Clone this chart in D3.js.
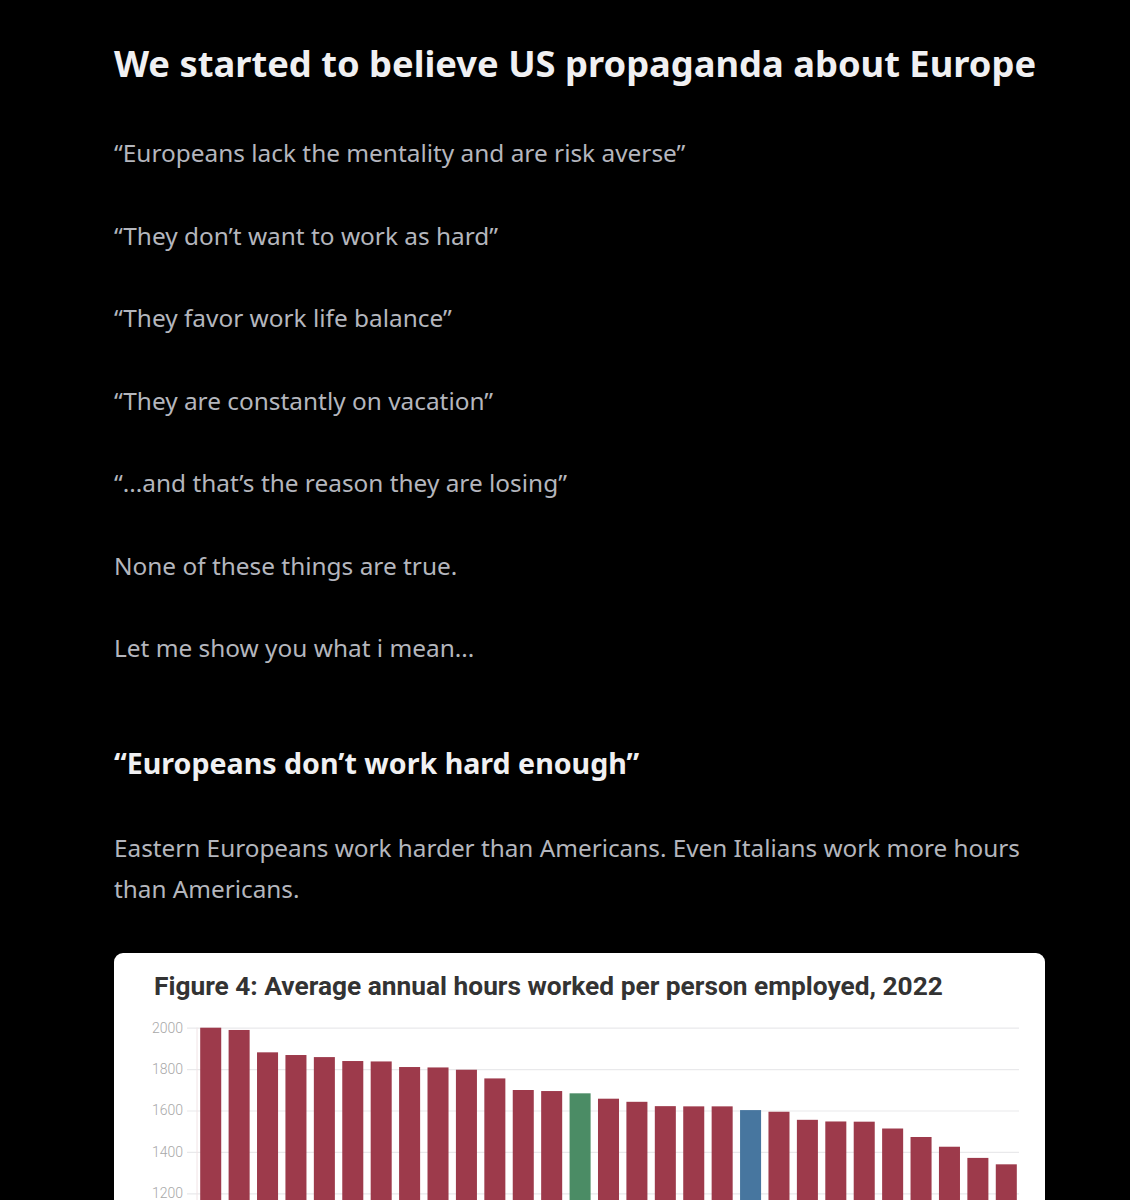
<!DOCTYPE html>
<html>
<head>
<meta charset="utf-8">
<title>Average annual hours worked</title>
<script src="https://d3js.org/d3.v7.min.js"></script>
<style>
  body { margin: 0; background: #000; }
  svg { display: block; }
  .copy { font-family: "Noto Sans", "Open Sans", sans-serif; }
  .fig-title { font-family: Roboto, sans-serif; font-weight: 700; }
  .y-axis text { font-family: Roboto, sans-serif; font-weight: 300; }
</style>
</head>
<body>
<div id="page"></div>
<script>
// ---- text ----
const heading = "We started to believe US propaganda about Europe";
const quotes = [
    "“Europeans lack the mentality and are risk averse”",
    "“They don’t want to work as hard”",
    "“They favor work life balance”",
    "“They are constantly on vacation”",
    "“...and that’s the reason they are losing”",
    "None of these things are true.",
    "Let me show you what i mean..."
];
const subheading = "“Europeans don’t work hard enough”";
const introLines = [
    "Eastern Europeans work harder than Americans. Even Italians work more hours",
    "than Americans."
];
const chartTitle = "Figure 4: Average annual hours worked per person employed, 2022";

// ---- chart data (country labels sit below the visible area) ----
const countries = ["Greece", "Poland", "Romania", "Bulgaria", "Croatia", "Cyprus", "Malta",
    "Hungary", "Czechia", "Lithuania", "Latvia", "Slovakia", "Italy", "EU", "Portugal",
    "Estonia", "Slovenia", "Ireland", "Spain", "United States", "Belgium", "France",
    "Finland", "Sweden", "Luxembourg", "Austria", "Netherlands", "Denmark", "Germany"];
const hours = [2000, 1989, 1881, 1868, 1858, 1839, 1837, 1810, 1808, 1797, 1755, 1699,
    1694, 1683, 1657, 1642, 1621, 1620, 1620, 1602, 1594, 1555, 1547, 1546, 1513, 1472,
    1425, 1371, 1340];
const yTicks = [1200, 1400, 1600, 1800, 2000];

const W = 1130, H = 1200;
const left = 114;

const svg = d3.select("#page").append("svg")
    .attr("width", W)
    .attr("height", H);

// Article text
svg.append("text")
    .attr("class", "copy")
    .attr("x", left).attr("y", 77)
    .attr("font-size", 36.3).attr("font-weight", 700)
    .attr("fill", "#f0f0f2")
    .text(heading);

svg.selectAll(".quote")
    .data(quotes)
    .join("text")
    .attr("class", "copy quote")
    .attr("x", left)
    .attr("y", (d, i) => 162 + i * 82.5)
    .attr("font-size", 24.4)
    .attr("fill", "#b4b6bd")
    .text(d => d);

svg.append("text")
    .attr("class", "copy")
    .attr("x", left).attr("y", 774)
    .attr("font-size", 28.6).attr("font-weight", 700)
    .attr("fill", "#f0f0f2")
    .text(subheading);

svg.selectAll(".intro")
    .data(introLines)
    .join("text")
    .attr("class", "copy intro")
    .attr("x", left)
    .attr("y", (d, i) => 857 + i * 41)
    .attr("font-size", 24.3)
    .attr("fill", "#b4b6bd")
    .text(d => d);

// Chart card
const card = { x: 114, y: 953, w: 931, h: 560 };
svg.append("rect")
    .attr("x", card.x).attr("y", card.y)
    .attr("width", card.w).attr("height", card.h)
    .attr("rx", 9)
    .attr("fill", "#fff");

svg.append("text")
    .attr("class", "fig-title")
    .attr("x", 154).attr("y", 995)
    .attr("font-size", 26.3)
    .attr("fill", "#333")
    .text(chartTitle);

// Scales
const x = d3.scaleBand()
    .domain(countries)
    .range([196.5, 1020.5])
    .paddingInner(0.26)
    .paddingOuter(0.13);

const y = d3.scaleLinear()
    .domain([0, 2000])
    .range([1441.7, 1027.7]);

// Gridlines + y labels
const yAxis = svg.append("g")
    .attr("class", "y-axis")
    .attr("transform", "translate(187,0)")
    .call(d3.axisLeft(y).tickValues(yTicks).tickSize(-832).tickPadding(4).tickFormat(d3.format("d")));
yAxis.select(".domain").remove();
yAxis.selectAll(".tick line").attr("stroke", "#e9e9eb").attr("stroke-width", 1.2);
yAxis.selectAll(".tick text").attr("fill", "#a8a8a8").attr("font-size", 14);

svg.append("line")
    .attr("x1", 197).attr("x2", 197)
    .attr("y1", y(2000)).attr("y2", y(0))
    .attr("stroke", "#f1e4e6");

// Bars
const barColor = d => d === "EU" ? "#4b8c65" : d === "United States" ? "#47769f" : "#9d3a4b";

svg.selectAll(".bar")
    .data(countries.map((c, i) => ({ country: c, value: hours[i] })))
    .join("rect")
    .attr("class", "bar")
    .attr("x", d => x(d.country))
    .attr("y", d => y(d.value))
    .attr("width", x.bandwidth())
    .attr("height", d => y(0) - y(d.value))
    .attr("fill", d => barColor(d.country));
</script>
</body>
</html>
